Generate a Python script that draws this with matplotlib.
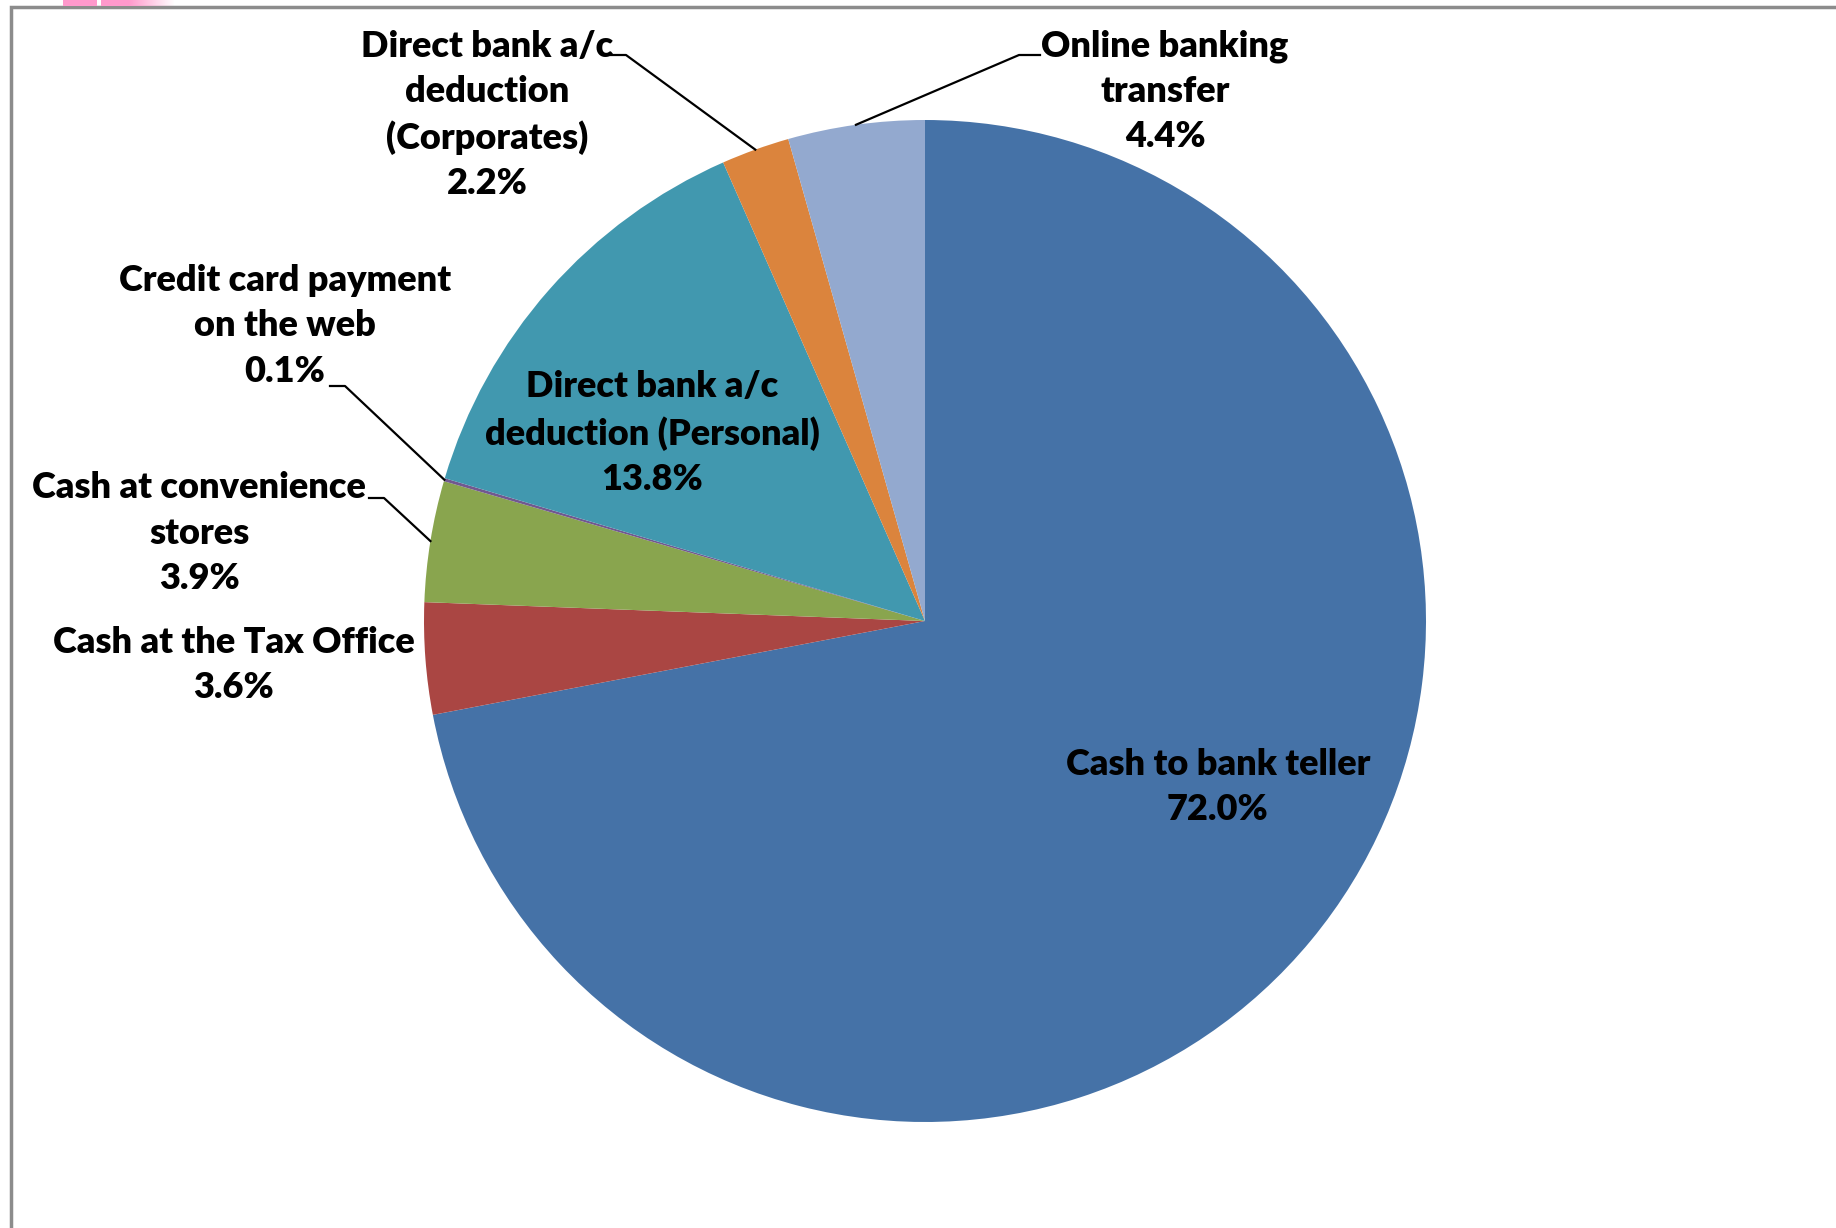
import numpy as np
import matplotlib
matplotlib.use('Agg')
import matplotlib.pyplot as plt
from matplotlib.patches import Rectangle

labels = ['Cash to bank teller', 'Cash at the Tax Office', 'Cash at convenience\nstores',
          'Credit card payment\non the web', 'Direct bank a/c\ndeduction (Personal)',
          'Direct bank a/c\ndeduction\n(Corporates)', 'Online banking\ntransfer']
shares = [72.0, 3.6, 3.9, 0.1, 13.8, 2.2, 4.4]
colors = ['#4572A7', '#AA4643', '#89A54E', '#71588F', '#4198AF', '#DB843D', '#93A9CF']

W, H = 1836, 1228
fig = plt.figure(figsize=(W / 100, H / 100), dpi=100)
ax = fig.add_axes([0, 0, 1, 1])
ax.set_xlim(0, W)
ax.set_ylim(0, H)
ax.set_aspect('equal')
ax.axis('off')

plt.rcParams['font.family'] = ['Lato', 'DejaVu Sans']

cx, cy, r = 925, H - 621, 501
wedges, _ = ax.pie(shares, colors=colors, startangle=90, counterclock=False,
                   center=(cx, cy), radius=r, wedgeprops=dict(linewidth=0))
ax.set_xlim(0, W)
ax.set_ylim(0, H)

# label positions (image px, y down)
text_pos = [(1218, 787), (234, 665), (199, 533), (285, 326), (652, 433), (487, 115), (1165, 91)]
# leader lines: (elbow, end) for outside labels
leaders = {2: ((384, 498), (369, 498)), 3: ((345, 386), (330, 386)),
           5: ((626, 55), (611, 55)), 6: ((1019, 55), (1040, 55))}

for i, (lab, val) in enumerate(zip(labels, shares)):
    x, y = text_pos[i]
    ax.text(x, H - y, f'{lab}\n{val:.1f}%', ha='center', va='center', fontsize=26,
            fontweight='heavy', linespacing=1.45, color='black')
    if i in leaders:
        w = wedges[i]
        mid = np.deg2rad((w.theta1 + w.theta2) / 2)
        ex, ey = cx + r * np.cos(mid), cy + r * np.sin(mid)
        (bx, by), (tx, ty) = leaders[i]
        ax.plot([ex, bx, tx], [ey, H - by, H - ty], color='black', lw=1.6)

# chart frame running off the right and bottom edges
ax.add_patch(Rectangle((11, -20), W + 50, H - 7 + 20, fill=False, ec='#8c8c8c', lw=2.5))

# pink tabs at top-left
ax.add_patch(Rectangle((63, H - 6), 34, 6, color='#FF99CC', lw=0))
grad = np.linspace(1, 0, 100).reshape(1, -1)
pink = np.zeros((1, 100, 4))
pink[..., 0], pink[..., 1], pink[..., 2] = 1.0, 0.6, 0.8
pink[..., 3] = np.clip(grad * 1.6, 0, 1)
ax.imshow(pink, extent=(101, 175, H - 6, H), aspect='auto', zorder=3)
ax.set_xlim(0, W)
ax.set_ylim(0, H)

fig.savefig('out.png', dpi=100)
